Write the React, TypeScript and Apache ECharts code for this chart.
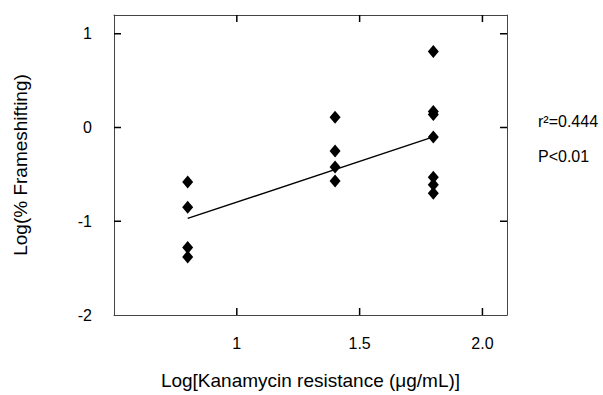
import React, { useEffect, useRef } from "react";
import * as echarts from "echarts";

const xRange = [0.5, 2.1];
const yRange = [-2, 1.2];
const xTicks = [1, 1.5, 2.0];
const yTicks = [1, 0, -1];
const groupX = [0.8, 1.4, 1.8];
const group1 = [-0.58, -0.85, -1.28, -1.38];
const group2 = [0.11, -0.25, -0.42, -0.57];
const group3 = [0.81, 0.17, 0.14, -0.1, -0.53, -0.61, -0.7];
const fitX = [0.8, 1.8];
const fitY = [-0.97, -0.1];
const stats = ["r²=0.444", "P<0.01"];

export default function App() {
  const ref = useRef<HTMLDivElement>(null);
  useEffect(() => {
    const chart = echarts.init(ref.current!, null, { renderer: "svg" });
    const pts: number[][] = [];
    [group1, group2, group3].forEach((g, i) => g.forEach((v) => pts.push([groupX[i], v])));
    // tick anchors: [x, y, direction] 0 = up, 1 = down, 2 = right, 3 = left
    const tickData: number[][] = [];
    xTicks.forEach((t) => {
      tickData.push([t, yRange[0], 0]);
      tickData.push([t, yRange[1], 1]);
    });
    yTicks.forEach((t) => {
      tickData.push([xRange[0], t, 2]);
      tickData.push([xRange[1], t, 3]);
    });
    const font = "Liberation Sans, Arial, sans-serif";
    const lineStyle = { color: "#444", width: 1 };
    const xBase = { type: "value", min: xRange[0], max: xRange[1], interval: 0.5, splitLine: { show: false }, axisTick: { show: false } };
    const yBase = { type: "value", min: yRange[0], max: yRange[1], interval: 1, splitLine: { show: false }, axisTick: { show: false } };
    chart.setOption({
      animation: false,
      backgroundColor: "#fff",
      textStyle: { fontFamily: font },
      grid: { left: 114, top: 15, width: 393, height: 304 },
      xAxis: [
        {
          ...xBase,
          position: "bottom",
          axisLine: { show: true, onZero: false, lineStyle },
          axisLabel: {
            show: true,
            color: "#000",
            fontSize: 16,
            margin: 20,
            fontFamily: font,
            showMinLabel: false,
            showMaxLabel: false,
            formatter: (v: number) => (v === 2 ? "2.0" : String(v)),
          },
          name: "Log[Kanamycin resistance (\u03bcg/mL)]",
          nameLocation: "middle",
          nameGap: 56,
          nameTextStyle: { fontSize: 19, color: "#000", fontFamily: font },
        },
        {
          ...xBase,
          position: "top",
          axisLine: { show: true, onZero: false, lineStyle },
          axisLabel: { show: false },
        },
      ],
      yAxis: [
        {
          ...yBase,
          position: "left",
          axisLine: { show: true, onZero: false, lineStyle },
          axisLabel: {
            show: true,
            color: "#000",
            fontSize: 16,
            margin: 22,
            fontFamily: font,
            showMaxLabel: false,
          },
          name: "Log(% Frameshifting)",
          nameLocation: "middle",
          nameGap: 84,
          nameTextStyle: { fontSize: 19, color: "#000", fontFamily: font },
        },
        {
          ...yBase,
          position: "right",
          axisLine: { show: true, onZero: false, lineStyle },
          axisLabel: { show: false },
        },
      ],
      series: [
        {
          type: "custom",
          data: tickData,
          xAxisIndex: 0,
          yAxisIndex: 0,
          silent: true,
          clip: false,
          renderItem: (params: any, api: any) => {
            const p = api.coord([api.value(0), api.value(1)]);
            const d = api.value(2);
            const L = 7;
            let shape;
            if (d === 0) shape = { x1: p[0], y1: p[1], x2: p[0], y2: p[1] - L };
            else if (d === 1) shape = { x1: p[0], y1: p[1], x2: p[0], y2: p[1] + L };
            else if (d === 2) shape = { x1: p[0], y1: p[1], x2: p[0] + L, y2: p[1] };
            else shape = { x1: p[0], y1: p[1], x2: p[0] - L, y2: p[1] };
            return { type: "line", shape, style: { stroke: "#000", lineWidth: 1.5 } };
          },
        },
        {
          type: "line",
          data: fitX.map((x, i) => [x, fitY[i]]),
          symbol: "none",
          lineStyle: { color: "#000", width: 1.4 },
          xAxisIndex: 0,
          yAxisIndex: 0,
        },
        {
          type: "scatter",
          data: pts,
          symbol: "diamond",
          symbolSize: [11, 13],
          itemStyle: { color: "#000", opacity: 1 },
          xAxisIndex: 0,
          yAxisIndex: 0,
        },
      ],
      graphic: stats.map((s, i) => ({
        type: "text",
        left: 538,
        top: 113 + i * 35,
        style: { text: s, fontSize: 16, fill: "#000", fontFamily: font },
      })),
    });
    return () => chart.dispose();
  }, []);
  return <div ref={ref} style={{ width: 603, height: 395, position: "absolute", left: 0, top: 0 }} />;
}
